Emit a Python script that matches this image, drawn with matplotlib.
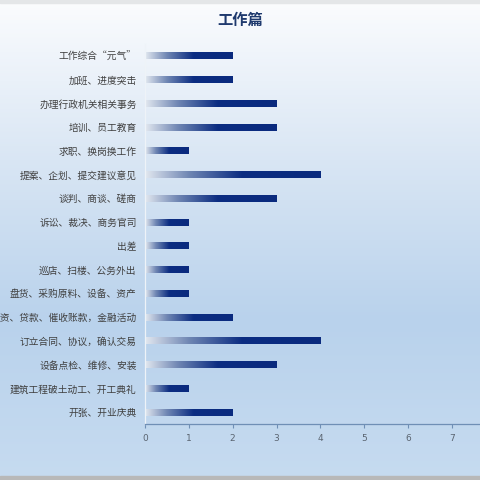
import numpy as np
import matplotlib
matplotlib.use("Agg")
import matplotlib.pyplot as plt
from matplotlib.colors import LinearSegmentedColormap

plt.rcParams["font.family"] = ["Noto Sans CJK SC", "DejaVu Sans"]

categories = [
    "工作综合“元气”",
    "加班、进度突击",
    "办理行政机关相关事务",
    "培训、员工教育",
    "求职、换岗换工作",
    "提案、企划、提交建议意见",
    "谈判、商谈、磋商",
    "诉讼、裁决、商务官司",
    "出差",
    "巡店、扫楼、公务外出",
    "盘货、采购原料、设备、资产",
    "融资、贷款、催收账款，金融活动",
    "订立合同、协议，确认交易",
    "设备点检、维修、安装",
    "建筑工程破土动工、开工典礼",
    "开张、开业庆典",
]
values = [2, 2, 3, 3, 1, 4, 3, 1, 1, 1, 1, 2, 4, 3, 1, 2]
xticks = [0, 1, 2, 3, 4, 5, 6, 7]

fig = plt.figure(figsize=(4.8, 4.8), dpi=100)

# background gradient
bg = fig.add_axes([0, 0, 1, 1])
bg_cmap = LinearSegmentedColormap.from_list("bg", ["#fbfcfe", "#d9e6f4", "#b9d2ec", "#c6dbf0"])
grad = np.linspace(0, 1, 256).reshape(-1, 1)
bg.imshow(grad, aspect="auto", cmap=bg_cmap, extent=[0, 1, 0, 1], origin="upper")
bg.axhspan(0, 0.009, color="#b8b8b8")
bg.axhspan(0.994, 1.0, color="#e4e6e8")
bg.set_xlim(0, 1)
bg.set_ylim(0, 1)
bg.axis("off")

ax = fig.add_axes([0.302, 0.1167, 0.698, 0.7917])
ax.set_facecolor("none")

y = np.arange(len(categories))
bars = ax.barh(y, values, height=0.3, color="none", edgecolor="none")

bar_cmap = LinearSegmentedColormap.from_list(
    "bar", [(0, "#e2e8f0"), (0.25, "#6f86b3"), (0.55, "#0c2d82"), (1, "#0a2a7e")])
hgrad = np.linspace(0, 1, 256).reshape(1, -1)
for b in bars:
    x0, y0 = b.get_x(), b.get_y()
    w, h = b.get_width(), b.get_height()
    im = ax.imshow(hgrad, aspect="auto", cmap=bar_cmap,
                   extent=[x0, x0 + w, y0 + h, y0], zorder=2)
    im.set_clip_path(b)

ax.set_xlim(0, 7.64)
ax.set_ylim(len(categories) - 0.5, -0.5)
ax.set_yticks(y)
ax.set_yticklabels(categories, fontsize=7, color="#404040")
ax.set_xticks(xticks)
ax.set_xticklabels([str(t) for t in xticks], fontsize=6.5, color="#5a6470",
                   family=["DejaVu Sans"])
ax.tick_params(axis="y", length=0, pad=6)
ax.tick_params(axis="x", length=3, width=0.8, color="#6f8fb5", pad=4)

for s in ["top", "right"]:
    ax.spines[s].set_visible(False)
ax.spines["bottom"].set_color("#6f8fb5")
ax.spines["bottom"].set_linewidth(0.9)
ax.spines["left"].set_color("#eef3f8")
ax.spines["left"].set_linewidth(0.9)

fig.text(0.5, 0.958, "工作篇", ha="center", va="center", fontsize=11,
         fontweight="bold", color="#1f3a6e")

fig.savefig("out.png", dpi=100)
